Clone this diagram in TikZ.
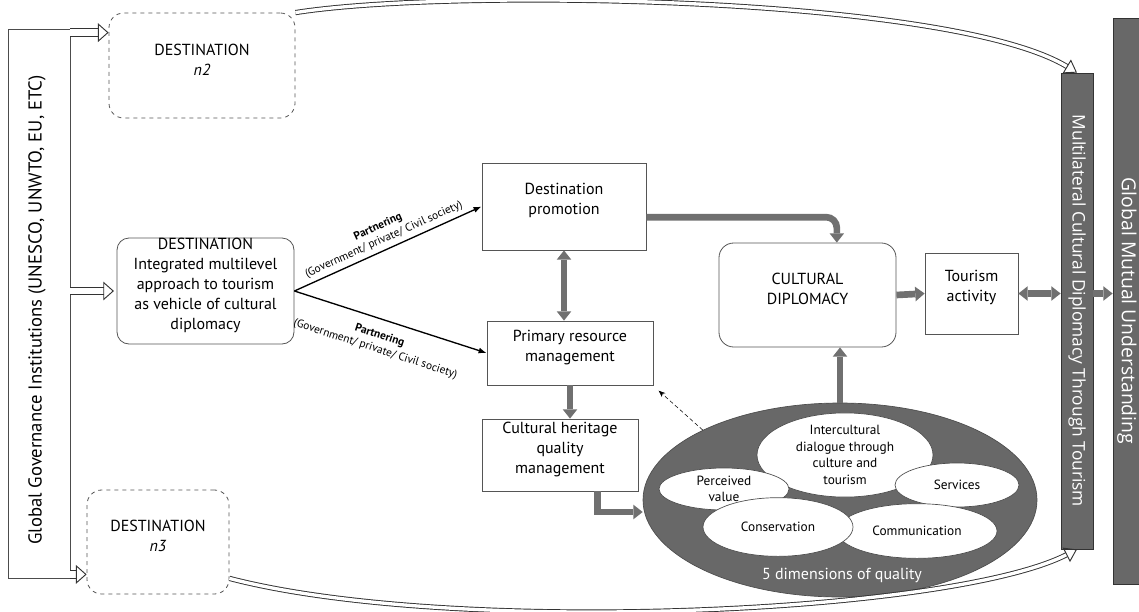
\documentclass[tikz,border=0pt]{standalone}
\usepackage{fontspec}
\setmainfont{PT Sans}
\newfontfamily\barfont{Open Sans}
\usepackage{tikz}
\usetikzlibrary{shapes.geometric, arrows.meta, fit}
\definecolor{bargray}{RGB}{104, 104, 104}
\definecolor{flowgray}{RGB}{112, 112, 112}
\definecolor{linegray}{RGB}{85, 85, 85}

\begin{document}
\begin{tikzpicture}[
    x=0.75pt, y=-0.75pt,
    font=\fontsize{12}{15}\selectfont,
    box/.style={draw=linegray, line width=0.6pt, align=center, inner sep=0pt},
    destbox/.style={box, dashed, rounded corners=11pt},
    bar/.style={draw=black!80, fill=bargray, line width=0.6pt, inner sep=0pt},
    bartext/.style={text=white, font=\barfont\fontsize{13}{15}\selectfont},
    dim/.style={ellipse, draw=black!70, fill=white, line width=0.5pt, inner sep=0pt, align=center, font=\fontsize{10}{12.5}\selectfont},
    flow/.style={draw=flowgray, line width=5pt, -{Triangle[length=7pt, width=11pt, line width=0pt]}},
    flowboth/.style={flow, {Triangle[length=7pt, width=11pt, line width=0pt]}-{Triangle[length=7pt, width=11pt, line width=0pt]}},
    hollow/.style={draw=black!80, line width=0.7pt, double=white, double distance=5pt, -{Triangle[open, length=8pt, width=14pt]}},
    hollowcurve/.style={hollow, double distance=2.5pt, -{Triangle[open, length=9pt, width=12pt]}},
    partner/.style={draw=black, line width=1pt, -{Latex[length=6pt, width=4.5pt]}},
    partnertext/.style={font=\fontsize{8.5}{10.5}\selectfont, align=center, sloped, inner sep=2pt}
]
    \useasboundingbox (0,0) rectangle (1139,611);

    % --- Side bars ---
    \node[box, draw=black!70, fit={(8,29) (70,578)}] (gov) {};
    \node[rotate=90, font=\fontsize{14}{16}\selectfont] (govtext) at (37,310) {Global Governance Institutions (UNESCO, UNWTO, EU, ETC)};

    \node[bar, fit={(1061,73) (1093,549)}] (multi) {};
    \node[bartext, rotate=-90] (multitext) at (1077,311) {Multilateral Cultural Diplomacy Through Tourism};
    \node[bar, fit={(1113,18) (1145,584)}] (global) {};
    \node[bartext, rotate=-90, font=\barfont\fontsize{14.5}{16}\selectfont] (globaltext) at (1127,311) {Global Mutual Understanding};

    % --- Destinations ---
    \node[destbox, fit={(109,13) (295,118)}] (n2) {DESTINATION\\\textit{n2}};
    \node[box, rounded corners=9pt, fit={(117,238) (294,344)}] (dest) {DESTINATION\\Integrated multilevel\\approach to tourism\\as vehicle of cultural\\diplomacy};
    \node[destbox, fit={(87,490) (229,594)}] (n3) {DESTINATION\\\textit{n3}};

    % --- Management boxes ---
    \node[box, fit={(482,163) (646,250)}] (promo) {Destination\\promotion};
    \node[box, fit={(487,321) (653,385)}] (prim) {Primary resource\\management};
    \node[box, fit={(482,419) (638,491)}] (ch) {Cultural heritage\\quality\\management};

    \node[box, rounded corners=11pt, fit={(719,243) (896,347)}] (cd) {CULTURAL\\DIPLOMACY};
    \node[box, fit={(925,253) (1018,334)}] (tour) {Tourism\\activity};

    % --- Quality dimensions ---
    \node[ellipse, fill=bargray, draw=black!70, line width=0.5pt, minimum width=295.5pt, minimum height=145.5pt, inner sep=0pt] (dims) at (840,500) {};
    \node[text=white, font=\fontsize{12}{14}\selectfont] (dimstext) at (842,575) {5 dimensions of quality};

    \node[dim, minimum width=132pt, minimum height=56pt] (inter) at (845,455) {Intercultural\\dialogue through\\culture and\\tourism};
    \node[dim, minimum width=93pt, minimum height=33pt] (serv) at (957,485) {Services};
    \node[dim, minimum width=120pt, minimum height=41pt] (comm) at (917,531) {Communication};
    \node[dim, minimum width=97.5pt, minimum height=31.5pt] (perc) at (724,489) {Perceived\\value};
    \node[dim, minimum width=112.5pt, minimum height=44pt] (cons) at (778,527) {Conservation};

    % --- Governance arrows ---
    \coordinate (n2in) at ([yshift=-15pt]n2.north west);
    \coordinate (destin) at ([xshift=-2pt]dest.west);
    \coordinate (n3in) at ([yshift=15pt]n3.south west);
    \draw[hollow] (gov.east |- n2in) -- (n2in);
    \draw[hollow] (gov.east |- destin) -- (destin);
    \draw[hollow] (gov.east |- n3in) -- (n3in);

    \draw[hollowcurve] (n2.north east) .. controls (450,-12) and (950,-4) .. (multi.north);
    \draw[hollowcurve] (n3.-27) .. controls (450,636) and (950,614) .. (multi.south);

    % --- Partnering ---
    \draw[partner] (dest.east) -- (promo.west) node[partnertext, pos=0.5, above=1pt] {\textbf{Partnering}\\(Government/ private/ Civil society)};
    \draw[partner] (dest.east) -- (prim.west) node[partnertext, pos=0.47, below=6pt] {\textbf{Partnering}\\(Government/ private/ Civil society)};

    % --- Flows ---
    \draw[flow, rounded corners=8pt] ([yshift=-8pt]promo.east) -| ([xshift=22pt]cd.north);
    \draw[flowboth] (promo.south) -- (promo.south |- prim.north);
    \draw[flow] (prim.south) -- (prim.south |- ch.north);
    \draw[flow] ([xshift=28pt]ch.south) |- ([yshift=-9pt]dims.west);
    \draw[flow] (dims.north) -- (dims.north |- cd.south);
    \draw[flow] (cd.east) -- (tour.west);
    \draw[flowboth] (tour.east) -- (multi.west |- tour.east);
    \draw[flow] (multi.east |- tour.east) -- (global.west |- tour.east);

    \draw[densely dashed, line width=0.4pt, -{Stealth[length=5pt, width=4pt]}] (dims.153) -- ([xshift=4pt, yshift=-4pt]prim.south east);

\end{tikzpicture}
\end{document}
